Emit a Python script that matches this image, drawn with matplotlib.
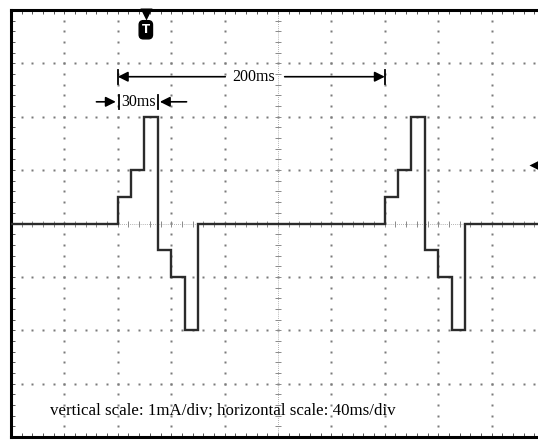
import numpy as np
import matplotlib.pyplot as plt

# step waveform: segment edges (ms) and current level (mA) of each segment
edges_ms = [0, 80, 90, 100, 110, 120, 130, 140, 280, 290, 300, 310, 320, 330, 340, 400]
levels_ma = [0, 0.5, 1.0, 2.0, -0.5, -1.0, -2.0, 0, 0.5, 1.0, 2.0, -0.5, -1.0, -2.0, 0]

x_div_ms = 40      # horizontal scale
y_div_ma = 1       # vertical scale
n_xdiv, n_ydiv = 10, 8

period_marks = [80, 280]   # 200ms marker
width_marks = [80, 110]    # 30ms marker
trigger_ms = 101
trigger_level = 1.1
caption = "vertical scale: 1mA/div; horizontal scale: 40ms/div"

serif = ['Liberation Serif', 'DejaVu Serif']

fig = plt.figure(figsize=(5.38, 4.40), dpi=100)
ax = fig.add_axes([11 / 538, 3 / 440, 534 / 538, 427 / 440])
xmax = n_xdiv * x_div_ms
ymax = n_ydiv / 2 * y_div_ma
ax.set_xlim(0, xmax)
ax.set_ylim(-ymax, ymax)

# dotted graticule, one dot every 0.2 div
dot_y = np.arange(-ymax, ymax + 1e-9, 0.2 * y_div_ma)
dot_x = np.arange(0, xmax + 1e-9, 0.2 * x_div_ms)
for gx in np.arange(x_div_ms, xmax, x_div_ms):
    if gx == xmax / 2:
        continue
    ax.plot(np.full_like(dot_y, gx), dot_y, ls='none', marker='s', ms=1.5,
            color='#7a7a7a', mec='none', zorder=1)
for gy in np.arange(-ymax + y_div_ma, ymax, y_div_ma):
    if gy == 0:
        continue
    ax.plot(dot_x, np.full_like(dot_x, gy), ls='none', marker='s', ms=1.5,
            color='#7a7a7a', mec='none', zorder=1)

# centre cross with small ticks
ax.axhline(0, color='#9a9a9a', lw=0.6, ls=(0, (1, 1.5)), zorder=1)
ax.axvline(xmax / 2, color='#9a9a9a', lw=0.6, ls=(0, (1, 1.5)), zorder=1)
ax.plot(dot_x, np.zeros_like(dot_x), ls='none', marker='|', ms=5, mew=0.7,
        color='#8a8a8a', zorder=1)
ax.plot(np.full_like(dot_y, xmax / 2), dot_y, ls='none', marker='_', ms=5, mew=0.7,
        color='#8a8a8a', zorder=1)

# frame ticks
ax.set_xticks(dot_x)
ax.set_yticks(dot_y)
ax.tick_params(direction='in', length=3, width=0.7, color='#555555',
               top=True, bottom=True, left=True, right=False,
               labelbottom=False, labelleft=False)
for side in ['left', 'top', 'bottom']:
    ax.spines[side].set_linewidth(2.2)
ax.spines['right'].set_visible(False)

# waveform
ax.stairs(levels_ma, edges_ms, baseline=None, color='#2b2b2b', lw=1.7, zorder=3)

arrow = dict(arrowstyle='-|>', color='black', lw=1.2,
             mutation_scale=15, shrinkA=0, shrinkB=0)

# 200ms period marker
ya = 2.75
for xm in period_marks:
    ax.plot([xm] * 2, [ya - 0.13, ya + 0.13], color='black', lw=1.3)
ax.annotate('', xy=(period_marks[0], ya), xytext=(160.5, ya), arrowprops=arrow)
ax.annotate('', xy=(period_marks[1], ya), xytext=(205, ya), arrowprops=arrow)
ax.text(182, ya, '200ms', ha='center', va='center', fontsize=11.5,
        family=serif, zorder=4)

# 30ms width marker
yb = 2.28
ax.plot([width_marks[0] + 0.8] * 2, [yb - 0.13, yb + 0.13], color='black', lw=1.3)
ax.plot([width_marks[1]] * 2, [yb - 0.13, yb + 0.13], color='black', lw=1.3)
ax.annotate('', xy=(78.5, yb), xytext=(64, yb), arrowprops=arrow)
ax.annotate('', xy=(111.5, yb), xytext=(131.5, yb), arrowprops=arrow)
ax.text(95.5, yb, '30ms', ha='center', va='center', fontsize=11.5,
        family=serif, zorder=4)

# trigger position marker
ax.plot(trigger_ms, ymax - 0.07, marker='v', ms=9, color='black', mec='none',
        clip_on=False, zorder=5)
ax.text(trigger_ms, 3.63, 'T', ha='center', va='center', color='white',
        fontsize=8.5, fontweight='bold', family='DejaVu Sans', zorder=6,
        bbox=dict(boxstyle='round,pad=0.22,rounding_size=0.35', fc='black',
                  ec='black'))

# trigger level marker on the right edge
ax.plot(393, trigger_level, marker='<', ms=10, color='black', mec='none',
        clip_on=False, zorder=5)

ax.text(29, -3.5, caption, ha='left', va='center', fontsize=12.2,
        family=serif, zorder=4)

fig.savefig('out.png', dpi=100)
